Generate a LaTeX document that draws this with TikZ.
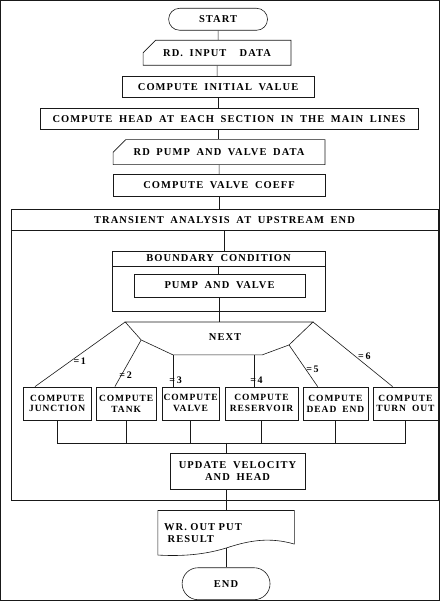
\documentclass[tikz,border=0pt]{standalone}
\usepackage{fontspec}
\newfontfamily\chartfont[LetterSpace=10,WordSpace=1.8]{Liberation Serif}
\usetikzlibrary{shapes.misc}

\begin{document}
\begin{tikzpicture}[
  x=1pt, y=1pt,
  every node/.style={align=center, inner sep=1pt},
  font=\chartfont\bfseries\fontsize{10.5}{12}\selectfont,
  every path/.style={draw=black!90, line width=0.6pt},
  term/.style={draw, rounded rectangle, minimum height=22pt},
  proc/.style={draw, rectangle, minimum height=21pt},
  small/.style={font=\chartfont\bfseries\fontsize{9.5}{11}\selectfont},
  card/.style={draw, chamfered rectangle, chamfered rectangle corners=north west,
    chamfered rectangle xsep=8pt, chamfered rectangle ysep=8pt, minimum height=23pt},
  cond/.style={anchor=west, inner sep=0pt, font=\chartfont\bfseries\fontsize{10}{11}\selectfont}
]
\useasboundingbox (0,0) rectangle (439,-601);

% main column
\node[term, minimum width=101pt] (start) at (218,-19) {START};
\node[card, minimum width=148pt] (rdin) at (217,-52.5) {RD.\ INPUT \ DATA};
\node[proc, minimum width=192pt] (init) at (218,-86.5) {COMPUTE INITIAL VALUE};
\node[proc, minimum width=378pt] (head) at (229,-118.5) {COMPUTE HEAD AT EACH SECTION IN THE MAIN LINES};
\node[card, minimum width=212pt] (rdpv) at (219,-152) {RD PUMP AND VALVE DATA};
\node[proc, minimum width=212pt, minimum height=22pt] (coeff) at (219,-185) {COMPUTE VALVE COEFF};

% transient block
\node[draw, minimum width=427pt, minimum height=291pt] (frame) at (224.5,-354.5) {};
\node[proc, minimum width=427pt] (trans) at (224.5,-219.5) {TRANSIENT ANALYSIS AT UPSTREAM END};
\node[draw, minimum width=213pt, minimum height=60pt] (bnd) at (218.5,-281) {};
\node[proc, minimum width=213pt, minimum height=15pt] (bndh) at (218.5,-258.5) {BOUNDARY CONDITION};
\node[proc, minimum width=171pt, minimum height=23pt] (pump) at (219.5,-285.5) {PUMP AND VALVE};

% branch
\coordinate (nl) at (125,-322);
\coordinate (nr) at (313,-322);
\coordinate (b2) at (141,-340);
\coordinate (b3) at (173,-355);
\coordinate (b4) at (254,-355);
\coordinate (b45) at (262,-355);
\coordinate (b5) at (289,-345);
\draw (nl) -- (nr) -- (b5) -- (b45) -- (b3) -- (b2) -- cycle;
\node (next) at (225,-337) {NEXT};

\node[proc, small, minimum width=68pt, minimum height=33pt] (jct) at (57,-403.5) {COMPUTE\\JUNCTION};
\node[proc, small, minimum width=60pt, minimum height=33pt] (tank) at (126,-403.5) {COMPUTE\\TANK};
\node[proc, small, minimum width=57pt, minimum height=33pt] (valve) at (190.5,-403.5) {COMPUTE\\VALVE};
\node[proc, small, minimum width=73pt, minimum height=33pt] (resv) at (261.5,-403.5) {COMPUTE\\RESERVOIR};
\node[proc, small, minimum width=65pt, minimum height=33pt] (dead) at (335.5,-403.5) {COMPUTE\\DEAD END};
\node[proc, small, minimum width=65pt, minimum height=33pt] (turn) at (405.5,-403.5) {COMPUTE\\TURN OUT};

\draw (nl) -- ([xshift=12pt]jct.north west);
\draw (b2) -- ([xshift=19pt]tank.north west);
\draw (b3) -- (b3 |- valve.north);
\draw (b4) -- (b4 |- resv.north);
\draw (b5) -- ([xshift=15pt]dead.north west);
\draw (nr) -- ([xshift=20pt]turn.north west);

\node[cond] (c1) at (73,-361) {=\,1};
\node[cond] (c2) at (119,-375) {=\,2};
\node[cond] (c3) at (169,-380) {=\,3};
\node[cond] (c4) at (250,-380) {=\,4};
\node[cond] (c5) at (306,-369) {=\,5};
\node[cond] (c6) at (358,-356) {=\,6};

\coordinate (merge) at (226,-443);
\node[proc, minimum width=135pt, minimum height=36pt] (upd) at (237.5,-471) {UPDATE VELOCITY\\AND HEAD};
\foreach \b in {jct,tank,valve,resv,dead,turn}
  \draw (\b.south) |- (merge);
\draw (merge) -- (merge |- upd.north);

% output and end
\node[minimum width=136pt, minimum height=44pt, align=left, text width=124pt] (wr) at (226,-533) {WR.\ OUT PUT\\\ RESULT};
\coordinate (wave) at ([yshift=7pt]wr.south);
\draw (wave) .. controls ([shift={(-26pt,-8pt)}]wave) and ([shift={(-51pt,-8pt)}]wave) .. (wr.south west)
  -- (wr.north west) -- (wr.north east) -- ([yshift=11pt]wr.south east)
  .. controls ([shift={(44pt,11pt)}]wave) and ([shift={(24pt,8pt)}]wave) .. (wave);
\node[term, minimum width=90pt, minimum height=32pt] (end) at (226,-584) {END};

\draw (start) -- (start.south |- rdin.north);
\draw (rdin) -- (rdin.south |- init.north);
\draw (init) -- (init.south |- head.north);
\draw (head.south -| init.south) -- (init.south |- rdpv.north);
\draw (rdpv) -- (rdpv.south |- coeff.north);
\draw (coeff) -- (coeff.south |- trans.north);
\draw (trans.south) -- (trans.south |- bnd.north);
\draw (bndh.south) -- (bndh.south |- pump.north);
\draw (pump.south) -- (pump.south |- nl);
\draw (wr.north) -- (wr.north |- upd.south);
\draw (wave) -- (end.north);
\end{tikzpicture}
\end{document}
